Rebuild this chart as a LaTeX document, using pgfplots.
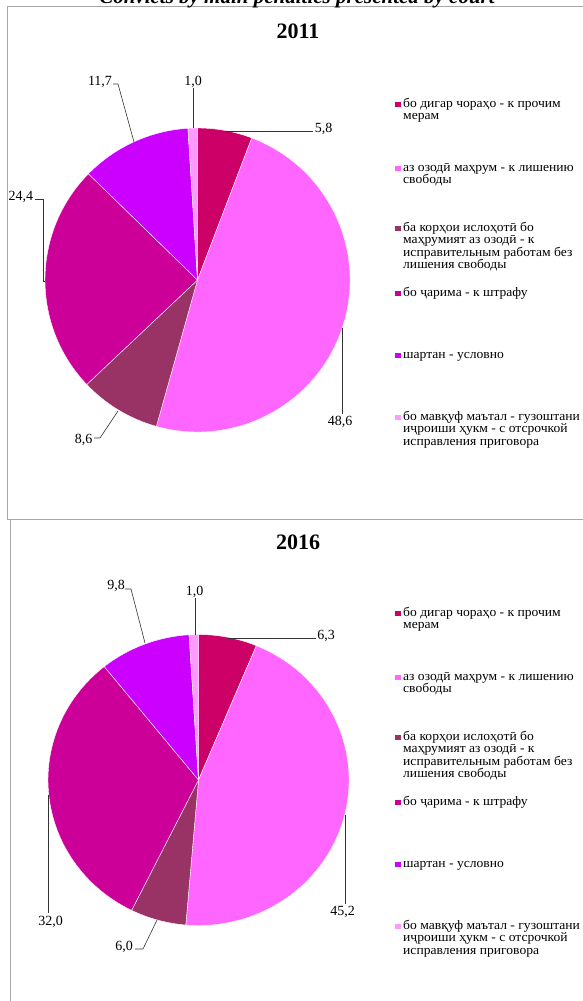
\documentclass[border=0pt]{standalone}
\usepackage{fontspec}
\setmainfont{Liberation Serif}
\newfontfamily\legfont{Liberation Serif}[FakeStretch=1.045]
\usepackage{pgfplots}
\usepackage{pgfplotstable}
\pgfplotsset{compat=1.18}
\definecolor{cA}{HTML}{CC0066}
\definecolor{cB}{HTML}{FF66FF}
\definecolor{cC}{HTML}{993366}
\definecolor{cD}{HTML}{CC0099}
\definecolor{cE}{HTML}{CC00FF}
\definecolor{cF}{HTML}{FF99FF}
\definecolor{frame}{HTML}{A6A6A6}

\pgfplotstableread{
value color
5.8  cA
48.6 cB
8.6  cC
24.4 cD
11.7 cE
1.0  cF
}\pieA
\pgfplotstableread{
value color
6.3  cA
45.2 cB
6.0  cC
32.0 cD
9.8  cE
1.0  cF
}\pieB

% builds the drawing commands of a pie from a table: #1 table, #2,#3 centre (axis units), #4,#5 radii (pt), #6 macro to hold the commands
\newcommand\buildpie[6]{%
  \gdef\pietotal{0}%
  \pgfplotstableforeachcolumnelement{value}\of#1\as\pv{%
    \pgfmathparse{\pietotal+\pv}\xdef\pietotal{\pgfmathresult}}%
  \gdef\piecum{0}%
  \gdef#6{}%
  \pgfplotstableforeachcolumnelement{value}\of#1\as\pv{%
    \pgfplotstablegetelem{\pgfplotstablerow}{color}\of#1%
    \edef\pc{\pgfplotsretval}%
    \pgfmathsetmacro\pa{90-(\piecum/\pietotal)*360}%
    \pgfmathsetmacro\pb{90-((\piecum+\pv)/\pietotal)*360}%
    \xdef#6{\unexpanded\expandafter{#6}\noexpand\fill[fill=\pc, draw=white, line width=0.4pt] (axis cs:#2,#3) -- ++(\pa:{#4pt} and {#5pt}) arc[start angle=\pa, end angle=\pb, x radius=#4pt, y radius=#5pt] -- cycle;}%
    \pgfmathparse{\piecum+\pv}\xdef\piecum{\pgfmathresult}}%
}
\newcommand\lab{\fontsize{14}{14}\selectfont}
\newcommand\leg{\legfont\fontsize{13}{13}\selectfont}
\newcommand\yr{\fontsize{22}{22}\selectfont\bfseries}

\begin{document}
\buildpie{\pieA}{197.5}{280}{152.5}{152}{\pieAcmds}%
\buildpie{\pieB}{198.5}{780}{150.5}{145.5}{\pieBcmds}%
\begin{tikzpicture}
\begin{axis}[hide axis, scale only axis, width=582pt, height=1001pt,
  xmin=0, xmax=582, ymin=0, ymax=1001, y dir=reverse, clip=false]
\coordinate (TL) at (axis cs:0,0);
\coordinate (BR) at (axis cs:582,1001);
% frames
\draw[frame, line width=0.8pt] (axis cs:600,6) -- (axis cs:7,6) -- (axis cs:7,519) -- (axis cs:600,519);
\draw[frame, line width=0.8pt] (axis cs:10.5,519) -- (axis cs:10.5,1010);
% top title (cut off)
\node[font=\fontsize{21}{21}\selectfont\bfseries\itshape, anchor=base, inner sep=0] at (axis cs:297,3.5) {Convicts by main penalties presented by court};
% year titles
\node[font=\yr, inner sep=0] at (axis cs:298,31) {2011};
\node[font=\yr, inner sep=0] at (axis cs:298,542) {2016};
% pies
\pieAcmds
\pieBcmds
% leaders 2011
\draw[line width=0.6pt, black!80] (axis cs:225,131) -- (axis cs:313,131);
\draw[line width=0.6pt, black!80] (axis cs:342,328) -- (axis cs:342,414);
\draw[line width=0.6pt, black!80] (axis cs:118,411) -- (axis cs:100,438) -- (axis cs:94,438);
\draw[line width=0.6pt, black!80] (axis cs:45,281) -- (axis cs:43,281) -- (axis cs:43,199.5) -- (axis cs:35,199.5);
\draw[line width=0.6pt, black!80] (axis cs:134,142) -- (axis cs:118,84) -- (axis cs:113,84);
\draw[line width=0.6pt, black!80] (axis cs:193,128) -- (axis cs:193,88);
% leaders 2016
\draw[line width=0.6pt, black!80] (axis cs:227,638) -- (axis cs:316,638);
\draw[line width=0.6pt, black!80] (axis cs:345,815) -- (axis cs:345,904);
\draw[line width=0.6pt, black!80] (axis cs:157,920) -- (axis cs:143,949) -- (axis cs:135,949);
\draw[line width=0.6pt, black!80] (axis cs:48.5,795) -- (axis cs:48.5,913);
\draw[line width=0.6pt, black!80] (axis cs:145,643) -- (axis cs:131,589) -- (axis cs:125,589);
\draw[line width=0.6pt, black!80] (axis cs:195,635) -- (axis cs:195,598);
% labels 2011
\node[font=\lab, inner sep=0] at (axis cs:323.5,129) {5,8};
\node[font=\lab, inner sep=0] at (axis cs:340,422) {48,6};
\node[font=\lab, inner sep=0] at (axis cs:83.5,440) {8,6};
\node[font=\lab, inner sep=0] at (axis cs:21,197) {24,4};
\node[font=\lab, inner sep=0] at (axis cs:100,82) {11,7};
\node[font=\lab, inner sep=0] at (axis cs:193,82) {1,0};
% labels 2016
\node[font=\lab, inner sep=0] at (axis cs:326,636) {6,3};
\node[font=\lab, inner sep=0] at (axis cs:342.5,912) {45,2};
\node[font=\lab, inner sep=0] at (axis cs:124,947) {6,0};
\node[font=\lab, inner sep=0] at (axis cs:50.5,922) {32,0};
\node[font=\lab, inner sep=0] at (axis cs:116,586) {9,8};
\node[font=\lab, inner sep=0] at (axis cs:194.5,592) {1,0};
% legends
\pgfplotsinvokeforeach{0,509}{
  \fill[cA] (axis cs:395,101.5+#1) rectangle (axis cs:400.5,107+#1);
  \fill[cB] (axis cs:395,165.5+#1) rectangle (axis cs:400.5,171+#1);
  \fill[cC] (axis cs:395,225.5+#1) rectangle (axis cs:400.5,231+#1);
  \fill[cD] (axis cs:395,290.5+#1) rectangle (axis cs:400.5,296+#1);
  \fill[cE] (axis cs:395,352.5+#1) rectangle (axis cs:400.5,358+#1);
  \fill[cF] (axis cs:395,414.5+#1) rectangle (axis cs:400.5,420+#1);
  \node[font=\leg, anchor=base west, inner sep=0] at (axis cs:403,107+#1) {бо дигар чораҳо - к прочим};
  \node[font=\leg, anchor=base west, inner sep=0] at (axis cs:403,119.5+#1) {мерам};
  \node[font=\leg, anchor=base west, inner sep=0] at (axis cs:403,171+#1) {аз озодӣ маҳрум - к лишению};
  \node[font=\leg, anchor=base west, inner sep=0] at (axis cs:403,183.5+#1) {свободы};
  \node[font=\leg, anchor=base west, inner sep=0] at (axis cs:403,231+#1) {ба корҳои ислоҳотӣ бо};
  \node[font=\leg, anchor=base west, inner sep=0] at (axis cs:403,243.5+#1) {маҳрумият аз озодӣ - к};
  \node[font=\leg, anchor=base west, inner sep=0] at (axis cs:403,256+#1) {исправительным работам без};
  \node[font=\leg, anchor=base west, inner sep=0] at (axis cs:403,268.5+#1) {лишения свободы};
  \node[font=\leg, anchor=base west, inner sep=0] at (axis cs:403,296+#1) {бо ҷарима - к штрафу};
  \node[font=\leg, anchor=base west, inner sep=0] at (axis cs:403,358+#1) {шартан - условно};
  \node[font=\leg, anchor=base west, inner sep=0] at (axis cs:403,420+#1) {бо мавқуф маътал - гузоштани};
  \node[font=\leg, anchor=base west, inner sep=0] at (axis cs:403,432.5+#1) {иҷроиши ҳукм - с отсрочкой};
  \node[font=\leg, anchor=base west, inner sep=0] at (axis cs:403,445+#1) {исправления приговора};
}
\end{axis}
\pgfresetboundingbox
\path (TL) rectangle (BR);
\end{tikzpicture}
\end{document}
